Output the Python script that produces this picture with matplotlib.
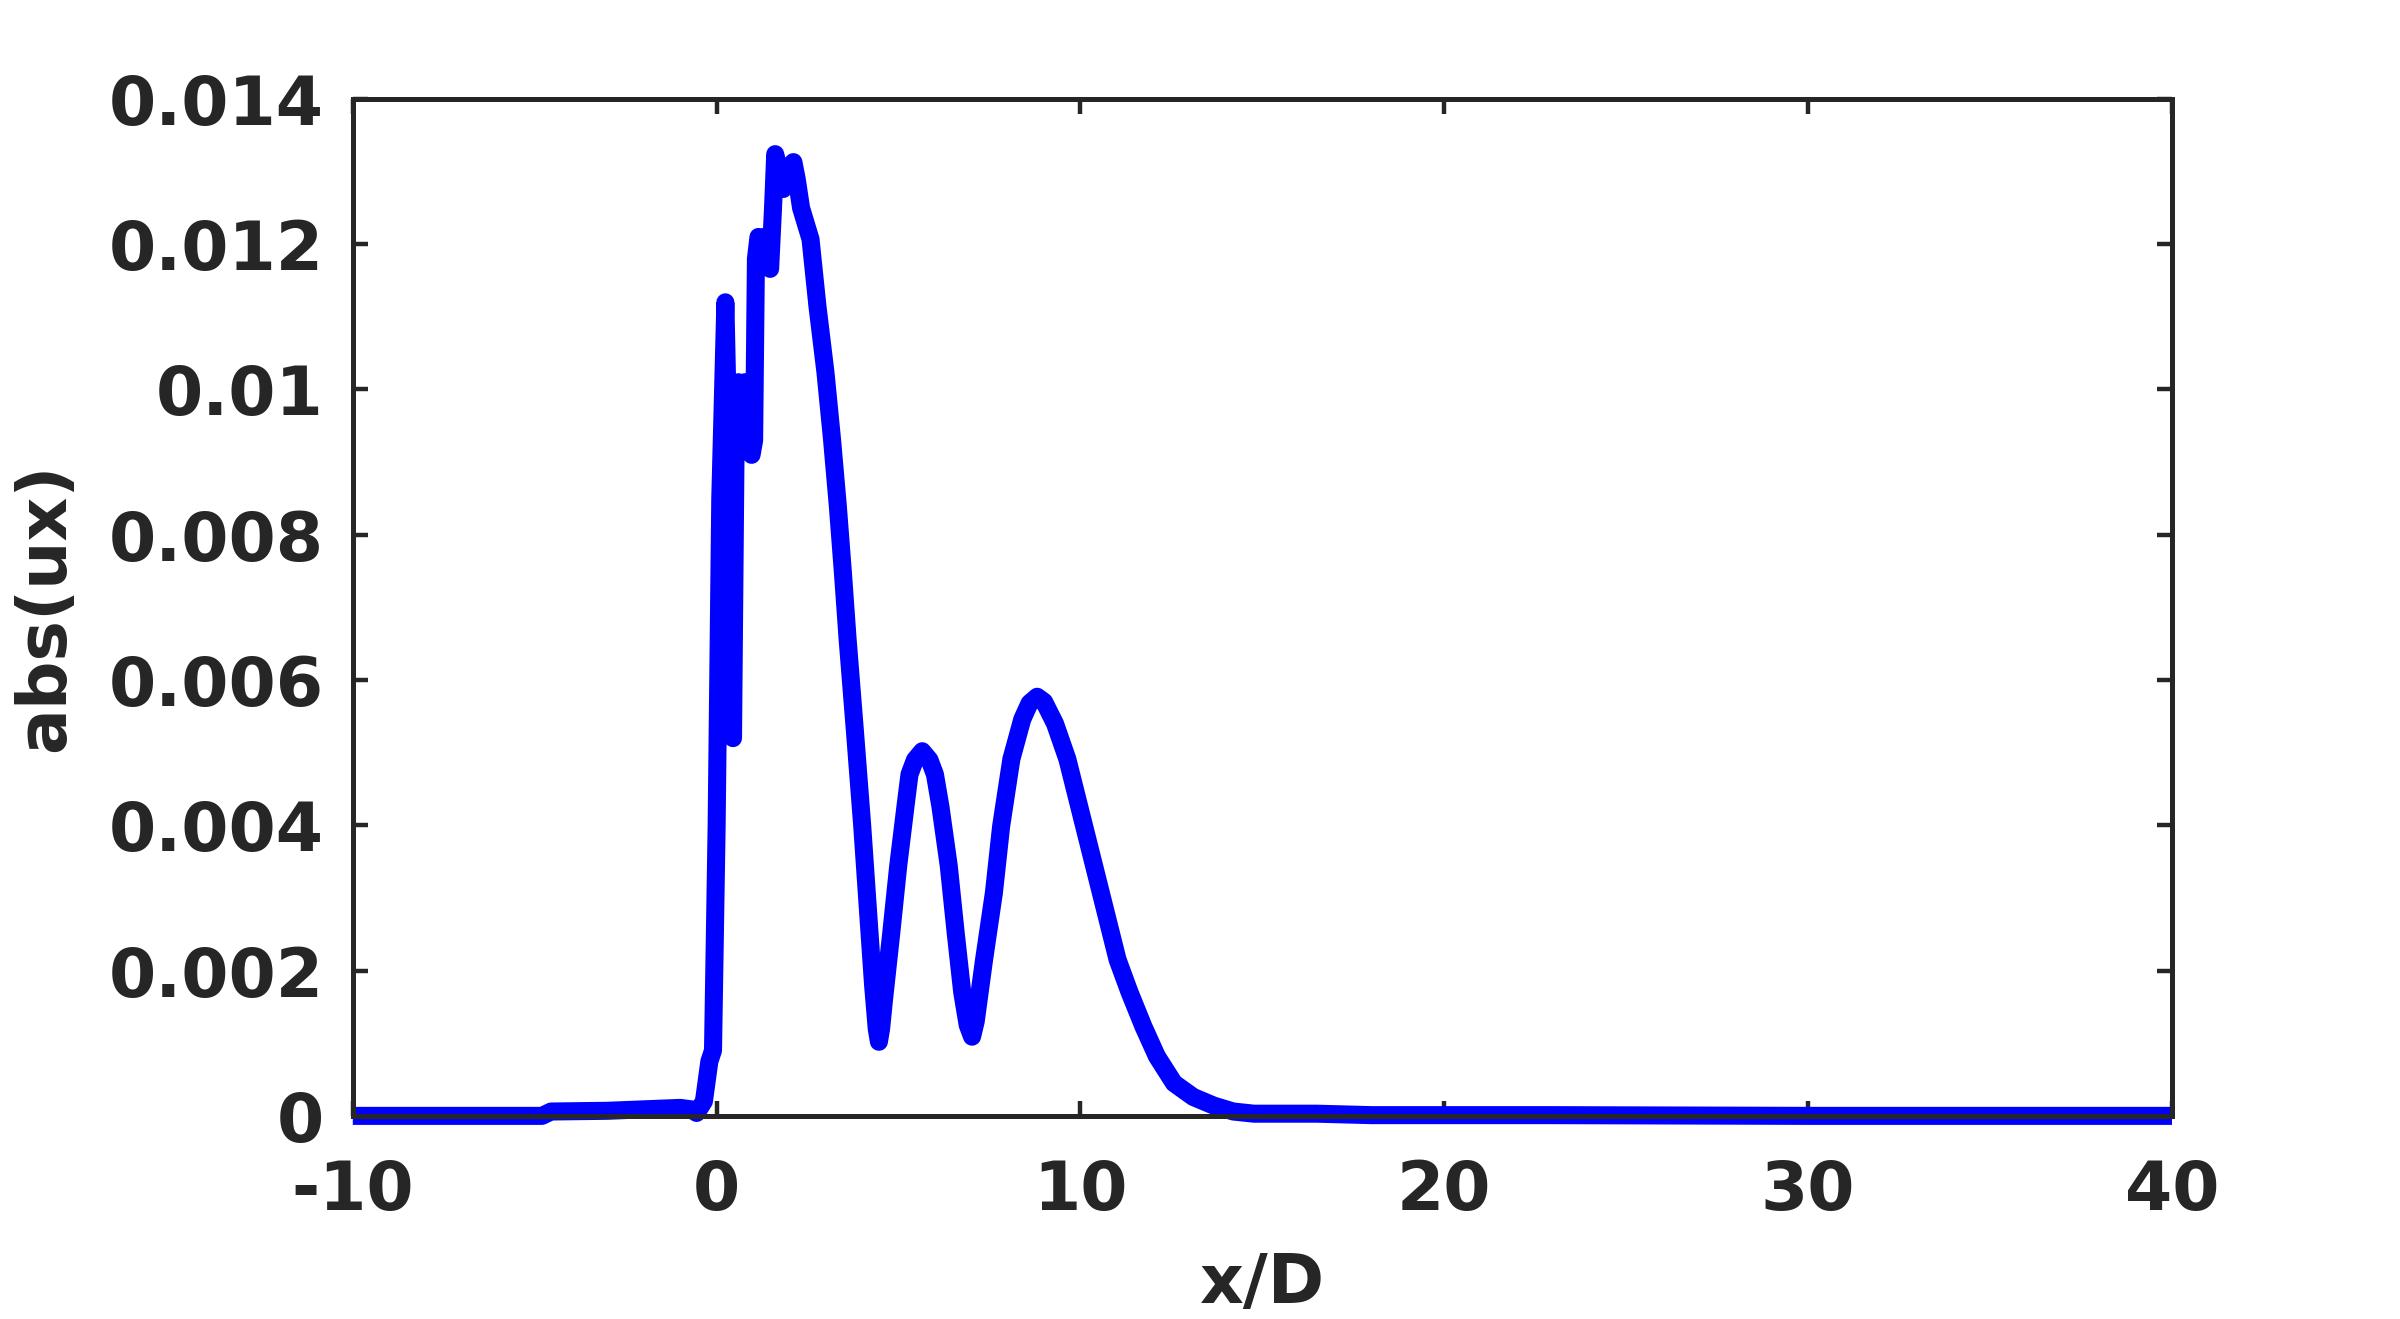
import numpy as np
import matplotlib.pyplot as plt

# x/D positions and abs(ux) values
x_d = [-10, -4.8, -4.55, -3.0, -2.0, -1.0, -0.7, -0.55, -0.35, -0.2, -0.1, 0.0, 0.1,
       0.24, 0.3, 0.38, 0.45, 0.52, 0.6, 0.68, 0.78, 0.88, 0.96, 1.03, 1.08, 1.15,
       1.25, 1.32, 1.47, 1.55, 1.61, 1.7, 1.83, 1.95, 2.05, 2.11, 2.2, 2.32, 2.44,
       2.58, 2.77, 2.99, 3.17, 3.33, 3.47, 3.6, 3.8, 4.0, 4.15, 4.3, 4.4, 4.46, 4.52,
       4.6, 4.8, 4.99, 5.19, 5.3, 5.45, 5.65, 5.85, 6.0, 6.15, 6.38, 6.57, 6.75, 6.9,
       7.02, 7.12, 7.35, 7.62, 7.82, 8.1, 8.4, 8.6, 8.81, 9.0, 9.3, 9.64, 10.1, 10.56,
       11.02, 11.35, 11.73, 12.1, 12.57, 13.1, 13.67, 14.2, 14.77, 16.5, 18.0, 23.0,
       30.0, 40.0]
abs_ux = [0.0, 0.0, 0.00006, 0.00007, 0.00009, 0.00011, 0.00009, 0.00004, 0.0002, 0.00075,
          0.0009, 0.004, 0.0085, 0.0112, 0.0098, 0.0065, 0.0052, 0.0092, 0.0101, 0.0100,
          0.0101, 0.0095, 0.0091, 0.0093, 0.0118, 0.0121, 0.0120, 0.0121, 0.01166, 0.0125,
          0.01324, 0.0130, 0.01276, 0.0129, 0.0131, 0.01313, 0.0129, 0.0125, 0.0123,
          0.01207, 0.01115, 0.01024, 0.00932, 0.0084, 0.00748, 0.00656, 0.0053, 0.0040,
          0.0029, 0.0018, 0.0012, 0.00102, 0.0012, 0.0016, 0.00252, 0.00344, 0.00426,
          0.0047, 0.0049, 0.00502, 0.0049, 0.0047, 0.00426, 0.00344, 0.00252, 0.0017,
          0.00125, 0.00109, 0.0013, 0.00215, 0.00307, 0.00399, 0.00491, 0.00546, 0.00568,
          0.00577, 0.0057, 0.0054, 0.00491, 0.00399, 0.00307, 0.00215, 0.0017, 0.00123,
          0.00082, 0.00045, 0.00026, 0.00014, 0.00006, 0.00003, 0.00003, 0.00001, 0.00001,
          0.0, 0.0]

x_ticks = [-10, 0, 10, 20, 30, 40]
y_ticks = [0, 0.002, 0.004, 0.006, 0.008, 0.01, 0.012, 0.014]
y_tick_labels = ['0', '0.002', '0.004', '0.006', '0.008', '0.01', '0.012', '0.014']

dark = '#262626'
plt.rcParams['font.family'] = 'DejaVu Sans'
plt.rcParams['font.weight'] = 'bold'

fig = plt.figure(figsize=(12, 6.595), dpi=200)
ax = fig.add_axes([0.147, 0.154, 0.758, 0.771])

ax.plot(x_d, abs_ux, color='#0000ff', linewidth=6.5,
        solid_joinstyle='round', solid_capstyle='butt', clip_on=False)

ax.set_xlim(-10, 40)
ax.set_ylim(0, 0.014)
ax.set_xticks(x_ticks)
ax.set_xticklabels([str(t) for t in x_ticks])
ax.set_yticks(y_ticks)
ax.set_yticklabels(y_tick_labels)

ax.tick_params(direction='in', length=5.5, width=1.6, colors=dark,
               labelsize=24.5, top=True, right=True)
ax.tick_params(axis='x', pad=15)
ax.tick_params(axis='y', pad=10.5)
for lab in ax.get_xticklabels() + ax.get_yticklabels():
    lab.set_fontweight('bold')
for sp in ax.spines.values():
    sp.set_linewidth(1.8)
    sp.set_color(dark)

ax.set_xlabel('x/D', fontsize=24.5, fontweight='bold', color=dark, labelpad=10)
ax.set_ylabel('abs(ux)', fontsize=24.5, fontweight='bold', color=dark, labelpad=11)

fig.savefig('out.png', dpi=200)
